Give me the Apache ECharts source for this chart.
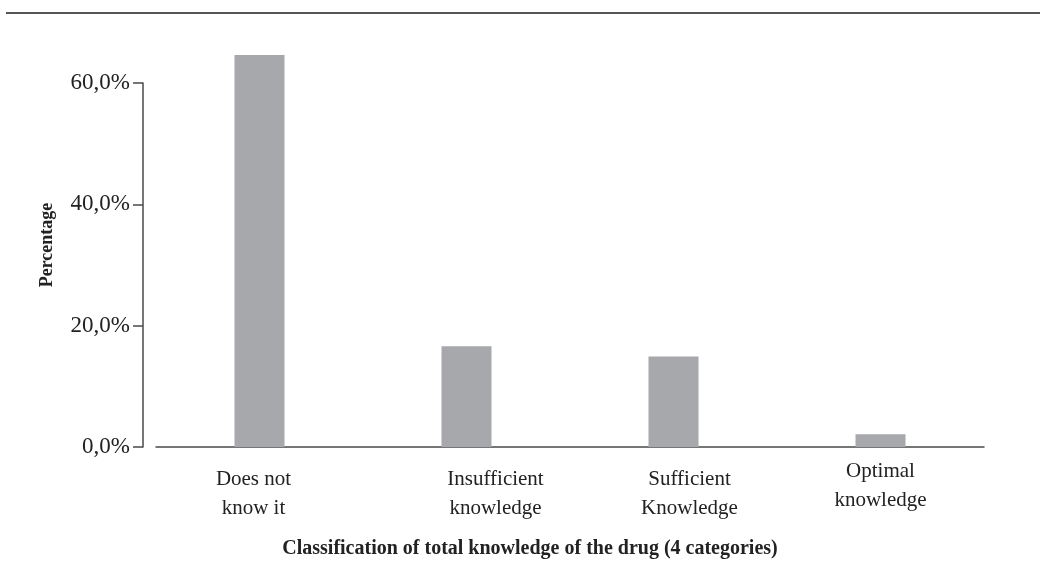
<!DOCTYPE html>
<html>
<head>
<meta charset="utf-8">
<script src="https://cdn.jsdelivr.net/npm/echarts@6/dist/echarts.min.js"></script>
<style>
html,body{margin:0;padding:0;background:#fff;}
#chart{width:1040px;height:564px;}
</style>
</head>
<body>
<div id="chart"></div>
<script>
const categories = ['Does not\nknow it', 'Insufficient\nknowledge', 'Sufficient\nKnowledge', 'Optimal\nknowledge'];
const percentages = [64.6, 16.6, 14.9, 2.1];
const yTicks = { min: 0, max: 60, interval: 20 };
const xTitle = 'Classification of total knowledge of the drug (4 categories)';
const yTitle = 'Percentage';

// small per-label nudges to match the reference's label placement
const labelPads = [[8, 12, 0, 0], [8, 0, 0, 58], [8, 0, 0, 32], [0, 0, 0, 0]];

const serif = '"Liberation Serif", "DejaVu Serif", serif';
const chart = echarts.init(document.getElementById('chart'), null, { renderer: 'canvas' });
chart.setOption({
  backgroundColor: '#ffffff',
  animation: false,
  graphic: [{
    type: 'line',
    shape: { x1: 6, y1: 13, x2: 1040, y2: 13 },
    style: { stroke: '#555', lineWidth: 2 }
  }],
  grid: { left: 156, right: 56, top: 83, bottom: 115, containLabel: false },
  xAxis: {
    type: 'category',
    data: categories.map((c, i) => ({ value: c, textStyle: { padding: labelPads[i] } })),
    axisLine: { show: true, lineStyle: { color: '#4a4a4a', width: 1.5 } },
    axisTick: { show: false },
    axisLabel: {
      margin: 10,
      color: '#222',
      fontFamily: serif,
      fontSize: 21,
      lineHeight: 29,
      interval: 0
    },
    name: xTitle,
    nameLocation: 'middle',
    nameGap: 92,
    nameTextStyle: {
      color: '#222',
      fontFamily: serif,
      fontSize: 20,
      fontWeight: 'bold',
      padding: [0, 80, 0, 0]
    }
  },
  yAxis: {
    type: 'value',
    min: yTicks.min,
    max: yTicks.max,
    interval: yTicks.interval,
    offset: 13,
    axisLine: { show: true, lineStyle: { color: '#4a4a4a', width: 1.5 } },
    axisTick: { show: true, length: 10, lineStyle: { color: '#4a4a4a', width: 1.5 } },
    splitLine: { show: false },
    axisLabel: {
      margin: 13,
      color: '#222',
      fontFamily: serif,
      fontSize: 23,
      formatter: v => v.toFixed(1).replace('.', ',') + '%'
    },
    name: yTitle,
    nameLocation: 'middle',
    nameGap: 87,
    nameRotate: 90,
    nameTextStyle: {
      color: '#222',
      fontFamily: serif,
      fontSize: 18,
      fontWeight: 'bold',
      padding: [0, 0, 0, 40]
    }
  },
  series: [{
    type: 'bar',
    data: percentages,
    barWidth: 50,
    clip: false,
    itemStyle: { color: '#a7a8ab' }
  }]
});
</script>
</body>
</html>
